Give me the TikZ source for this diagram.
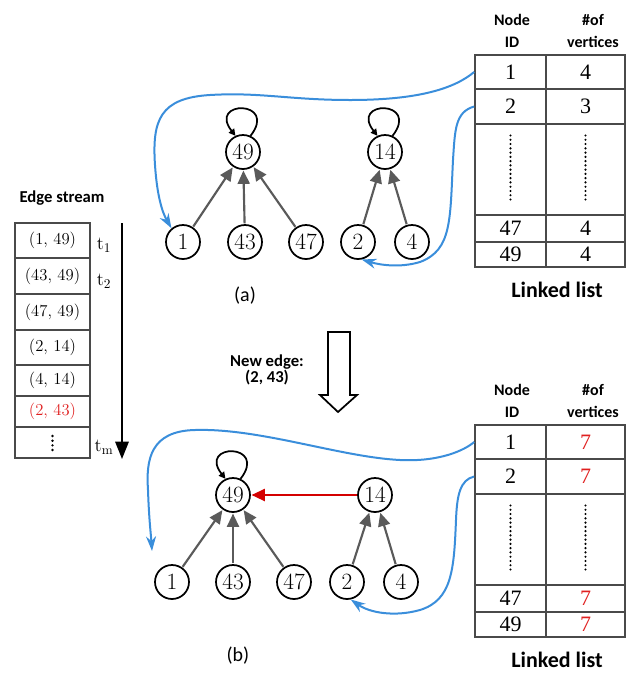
\documentclass[tikz,border=0pt]{standalone}
\usepackage{fontspec}
\newfontfamily\carl{Carlito}
\newfontfamily\tms{Liberation Serif}
\usetikzlibrary{arrows.meta}
\definecolor{lblue}{HTML}{3A8EDB}
\definecolor{arrgray}{HTML}{5A5A5A}
\definecolor{tabgray}{HTML}{4A4A4A}
\definecolor{rtext}{HTML}{E02020}
\definecolor{rarrow}{HTML}{D40000}
\tikzset{
  vtx/.style={circle, draw, line width=1.3pt, minimum size=25.5pt, inner sep=0pt, font=\fontsize{17.5}{17.5}\selectfont},
  garr/.style={draw=arrgray, line width=1.6pt, -{Triangle[length=10pt,width=9pt]}, shorten <=0.5pt, shorten >=0.5pt},
  blarr/.style={draw=lblue, line width=1.5pt, -{Stealth[length=11pt,width=7.5pt]}},
  loopst/.style={draw, line width=1.3pt, -{Triangle[length=5pt,width=5pt]}},
  cell/.style={draw=tabgray, line width=1.3pt, inner sep=0pt, font=\tms\fontsize{16.5}{16.5}\selectfont},
  esbox/.style={draw=tabgray, line width=1.3pt, inner sep=0pt, minimum width=56.25pt, font=\fontsize{12.5}{12.5}\selectfont},
  hdr/.style={font=\carl\bfseries\fontsize{12}{16.5}\selectfont, align=center},
  ttl/.style={font=\carl\bfseries\fontsize{16.5}{16.5}\selectfont},
  captxt/.style={font=\carl\fontsize{15}{15}\selectfont},
  dotline/.style={line width=1.8pt, dash pattern=on 0pt off 3.2pt, line cap=round},
  tlab/.style={font=\fontsize{14}{14}\selectfont, inner sep=0pt}
}
\begin{document}
\begin{tikzpicture}[x=0.75pt,y=-0.75pt]
\useasboundingbox (0,0) rectangle (627,676);

% ---------------- Edge stream ----------------
\node[font=\carl\bfseries\fontsize{12.5}{12.5}\selectfont] (eslabel) at (62,198) {Edge stream};
\node[esbox, minimum height=26.25pt] (es1) at (52.5,240.5) {(1, 49)};
\node[esbox, minimum height=27pt]    (es2) at (52.5,276) {(43, 49)};
\node[esbox, minimum height=27pt]    (es3) at (52.5,312) {(47, 49)};
\node[esbox, minimum height=26.25pt] (es4) at (52.5,347.5) {(2, 14)};
\node[esbox, minimum height=23.25pt] (es5) at (52.5,380.5) {(4, 14)};
\node[esbox, minimum height=23.25pt] (es6) at (52.5,411.5) {\textcolor{rtext}{(2, 43)}};
\node[esbox, minimum height=23.25pt] (es7) at (52.5,442.5) {};
\draw[dotline, line width=2pt, dash pattern=on 0pt off 3.5pt] (52.5,436) -- (52.5,450);
\coordinate (tstart) at (122,223);
\coordinate (tend) at (122,459);
\draw[line width=1.6pt, -{Triangle[length=13pt,width=10pt]}] (tstart) -- (tend);
\node[tlab] (t1) at (104,245) {t$_1$};
\node[tlab] (t2) at (104,281) {t$_2$};
\node[tlab] (tm) at (104,447) {t$_\mathrm{m}$};

% ---------------- Graph (a) ----------------
\node[vtx] (n49a) at (243,152) {49};
\node[vtx] (n14a) at (385,152) {14};
\node[vtx] (n1a)  at (183,242) {1};
\node[vtx] (n43a) at (245,242) {43};
\node[vtx] (n47a) at (306,242) {47};
\node[vtx] (n2a)  at (358,242) {2};
\node[vtx] (n4a)  at (412,242) {4};
\draw[garr] (n1a) -- (n49a);
\draw[garr] (n43a) -- (n49a);
\draw[garr] (n47a) -- (n49a);
\draw[garr] (n2a) -- (n14a);
\draw[garr] (n4a) -- (n14a);
\draw[loopst] (n49a.65) .. controls +(28,-36) and +(-28,-36) .. (n49a.115);
\draw[loopst] (n14a.65) .. controls +(28,-36) and +(-28,-36) .. (n14a.115);
\node[captxt] (capa) at (245,296) {(a)};

% ---------------- Table (a) ----------------
\node[hdr] (ha1) at (512,31) {Node\\ID};
\node[hdr] (ha2) at (593,31) {\#of\\vertices};
\node[cell, minimum width=53.25pt, minimum height=25.5pt]  (a1id) at (510.5,72) {1};
\node[cell, minimum width=59.25pt, minimum height=25.5pt]  (a1v)  at (585.5,72) {4};
\node[cell, minimum width=53.25pt, minimum height=26.25pt] (a2id) at (510.5,106.5) {2};
\node[cell, minimum width=59.25pt, minimum height=26.25pt] (a2v)  at (585.5,106.5) {3};
\node[cell, minimum width=53.25pt, minimum height=68.25pt] (a3id) at (510.5,169.5) {};
\node[cell, minimum width=59.25pt, minimum height=68.25pt] (a3v)  at (585.5,169.5) {};
\node[cell, minimum width=53.25pt, minimum height=20.25pt] (a4id) at (510.5,228.5) {47};
\node[cell, minimum width=59.25pt, minimum height=20.25pt] (a4v)  at (585.5,228.5) {4};
\node[cell, minimum width=53.25pt, minimum height=18.75pt] (a5id) at (510.5,254.5) {49};
\node[cell, minimum width=59.25pt, minimum height=18.75pt] (a5v)  at (585.5,254.5) {4};
\draw[dotline] (a3id.center) ++(0,-34) -- ++(0,64);
\draw[dotline] (a3v.center) ++(0,-34) -- ++(0,64);
\node[ttl] (lla) at (557,290) {Linked list};

\draw[blarr] (a1id.west) .. controls (455,88) and (420,100) .. (350,100)
  .. controls (290,100) and (260,92) .. (210,95)
  .. controls (160,98) and (152,120) .. (155,165)
  .. controls (157,195) and (162,212) .. (n1a.130);
\draw[blarr] (a2id.west) .. controls (455,112) and (455,130) .. (453,160)
  .. controls (450,220) and (452,250) .. (420,262)
  .. controls (400,268) and (380,265) .. (n2a.-78);

% ---------------- New edge arrow ----------------
\node[font=\carl\bfseries\fontsize{12.5}{12}\selectfont, align=center] (newedge) at (267,370) {New edge:\\(2, 43)};
\draw[line width=1.3pt, line join=miter] (328,332) -- (350,332) -- (350,395) -- (357,395) -- (338,412) -- (320,395) -- (328,395) -- cycle;

% ---------------- Graph (b) ----------------
\node[vtx] (n49b) at (233,495) {49};
\node[vtx] (n14b) at (375,495) {14};
\node[vtx] (n1b)  at (172,582) {1};
\node[vtx] (n43b) at (233,582) {43};
\node[vtx] (n47b) at (294,582) {47};
\node[vtx] (n2b)  at (347,582) {2};
\node[vtx] (n4b)  at (401,582) {4};
\draw[garr] (n1b) -- (n49b);
\draw[garr] (n43b) -- (n49b);
\draw[garr] (n47b) -- (n49b);
\draw[garr] (n2b) -- (n14b);
\draw[garr] (n4b) -- (n14b);
\draw[loopst] (n49b.65) .. controls +(28,-36) and +(-28,-36) .. (n49b.115);
\draw[draw=rarrow, line width=1.6pt, -{Triangle[length=10pt,width=9pt]}, shorten >=0.5pt] (n14b) -- (n49b);
\node[captxt] (capb) at (238,656) {(b)};

% ---------------- Table (b) ----------------
\node[hdr] (hb1) at (512,401) {Node\\ID};
\node[hdr] (hb2) at (593,401) {\#of\\vertices};
\node[cell, minimum width=53.25pt, minimum height=25.5pt]  (b1id) at (510.5,442) {1};
\node[cell, minimum width=59.25pt, minimum height=25.5pt]  (b1v)  at (585.5,442) {\textcolor{rtext}{7}};
\node[cell, minimum width=53.25pt, minimum height=26.25pt] (b2id) at (510.5,476.5) {2};
\node[cell, minimum width=59.25pt, minimum height=26.25pt] (b2v)  at (585.5,476.5) {\textcolor{rtext}{7}};
\node[cell, minimum width=53.25pt, minimum height=68.25pt] (b3id) at (510.5,539.5) {};
\node[cell, minimum width=59.25pt, minimum height=68.25pt] (b3v)  at (585.5,539.5) {};
\node[cell, minimum width=53.25pt, minimum height=20.25pt] (b4id) at (510.5,598.5) {47};
\node[cell, minimum width=59.25pt, minimum height=20.25pt] (b4v)  at (585.5,598.5) {\textcolor{rtext}{7}};
\node[cell, minimum width=53.25pt, minimum height=18.75pt] (b5id) at (510.5,624.5) {49};
\node[cell, minimum width=59.25pt, minimum height=18.75pt] (b5v)  at (585.5,624.5) {\textcolor{rtext}{7}};
\draw[dotline] (b3id.center) ++(0,-34) -- ++(0,64);
\draw[dotline] (b3v.center) ++(0,-34) -- ++(0,64);
\node[ttl] (llb) at (557,660) {Linked list};

\coordinate (b1end) at (152,551);
\draw[blarr] (b1id.west) .. controls (465,450) and (440,462) .. (400,460)
  .. controls (340,457) and (260,428) .. (195,430)
  .. controls (150,431) and (146,460) .. (148,490)
  .. controls (149,520) and (151,535) .. (b1end);
\draw[blarr] (b2id.west) .. controls (460,480) and (457,495) .. (456,520)
  .. controls (454,570) and (452,600) .. (420,610)
  .. controls (395,617) and (370,613) .. (n2b.-78);
\end{tikzpicture}
\end{document}
